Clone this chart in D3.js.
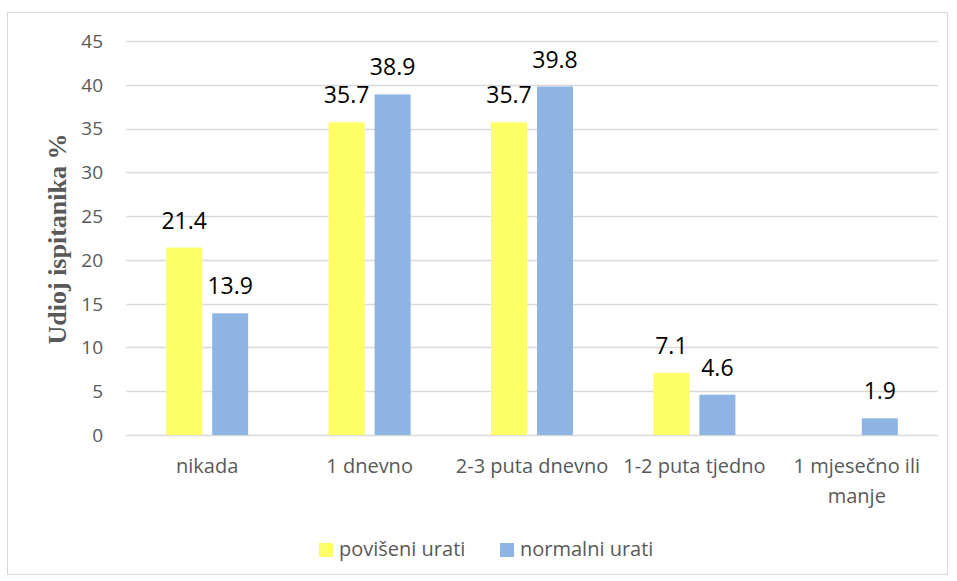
<!DOCTYPE html>
<html>
<head>
<meta charset="utf-8">
<script src="https://cdn.jsdelivr.net/npm/d3@7"></script>
<style>
  body { margin: 0; background: #fff; }
  svg text { font-family: "Open Sans", "Liberation Sans", sans-serif; }
</style>
</head>
<body>
<svg id="chart" width="957" height="581"></svg>
<script>
var categories = ['nikada', '1 dnevno', '2-3 puta dnevno', '1-2 puta tjedno', '1 mjesečno ili manje'];
var povišeni = [21.4, 35.7, 35.7, 7.1, null];
var normalni = [13.9, 38.9, 39.8, 4.6, 1.9];
var seriesNames = ['povišeni urati', 'normalni urati'];
var seriesColors = ['#FFFF66', '#8EB4E3'];
var yTicks = [0, 5, 10, 15, 20, 25, 30, 35, 40, 45];

var svg = d3.select('#chart');

// outer frame
svg.append('rect')
   .attr('x', 7.5).attr('y', 12.5)
   .attr('width', 940).attr('height', 562)
   .attr('fill', '#fff')
   .attr('stroke', '#D9D9D9');

var plotLeft = 126, plotRight = 938, plotTop = 41, plotBottom = 435;

var x = d3.scaleBand()
          .domain(categories)
          .range([plotLeft, plotRight]);

var y = d3.scaleLinear()
          .domain([0, 45])
          .range([plotBottom, plotTop]);

var barW = 36, gap = 10;

// gridlines
svg.append('g')
   .selectAll('line')
   .data(yTicks)
   .enter().append('line')
   .attr('x1', plotLeft).attr('x2', plotRight)
   .attr('y1', function(d){ return Math.round(y(d)) + 0.5; })
   .attr('y2', function(d){ return Math.round(y(d)) + 0.5; })
   .attr('stroke', '#D9D9D9')
   .attr('stroke-width', 1.3);

// y ticks
svg.append('g')
   .selectAll('text')
   .data(yTicks)
   .enter().append('text')
   .attr('x', 103)
   .attr('y', function(d){ return y(d); })
   .attr('dy', '0.36em')
   .attr('text-anchor', 'end')
   .attr('fill', '#595959')
   .attr('font-size', 19)
   .text(function(d){ return d; });

// y axis title
svg.append('text')
   .attr('transform', 'translate(66,239) rotate(-90)')
   .attr('text-anchor', 'middle')
   .attr('fill', '#595959')
   .attr('font-size', 26)
   .attr('font-weight', 'bold')
   .style('font-family', '"Liberation Serif", "DejaVu Serif", serif')
   .text('Udioj ispitanika %');

var series = [povišeni, normalni];

series.forEach(function(vals, s){
	var rows = categories.map(function(c, i){ return {cat: c, v: vals[i]}; })
	                     .filter(function(d){ return d.v != null; });

	function bx(d){
		var c = x(d.cat) + x.bandwidth() / 2;
		return s === 0 ? c - gap / 2 - barW : c + gap / 2;
	}

	var g = svg.append('g');

	g.selectAll('rect')
	 .data(rows)
	 .enter().append('rect')
	 .attr('x', bx)
	 .attr('y', function(d){ return y(d.v); })
	 .attr('width', barW)
	 .attr('height', function(d){ return plotBottom - y(d.v); })
	 .attr('fill', seriesColors[s]);

	g.selectAll('text')
	 .data(rows)
	 .enter().append('text')
	 .attr('x', function(d){ return bx(d) + barW / 2; })
	 .attr('y', function(d){ return y(d.v) - 19; })
	 .attr('text-anchor', 'middle')
	 .attr('font-size', 23)
	 .attr('fill', '#000')
	 .text(function(d){ return d.v.toFixed(1); });
});

// x labels
var xl = svg.append('g');
categories.forEach(function(c){
	var lines = c === '1 mjesečno ili manje' ? ['1 mjesečno ili', 'manje'] : [c];
	lines.forEach(function(t, k){
		xl.append('text')
		  .attr('x', x(c) + x.bandwidth() / 2)
		  .attr('y', 473 + k * 30)
		  .attr('text-anchor', 'middle')
		  .attr('fill', '#595959')
		  .attr('font-size', 20)
		  .text(t);
	});
});

// legend
var legX = [319, 500];
seriesNames.forEach(function(n, i){
	svg.append('rect')
	   .attr('x', legX[i]).attr('y', 543)
	   .attr('width', 14).attr('height', 14)
	   .attr('fill', seriesColors[i]);
	svg.append('text')
	   .attr('x', legX[i] + 20).attr('y', 556)
	   .attr('fill', '#595959')
	   .attr('font-size', 20)
	   .text(n);
});
</script>
</body>
</html>
